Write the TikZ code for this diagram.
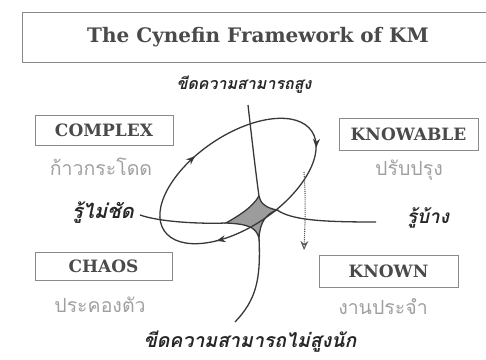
\documentclass[tikz,border=0pt]{standalone}
\usepackage{fontspec}
\newfontfamily\thaifont[Script=Thai]{Loma}
\newfontfamily\titlefont{DejaVu Serif}
\usetikzlibrary{arrows.meta,decorations.markings}
\definecolor{linec}{HTML}{383838}
\definecolor{boxc}{HTML}{8A8A8A}
\definecolor{boxtext}{HTML}{4A4A4A}
\definecolor{thaigray}{HTML}{A0A0A0}
\definecolor{starfill}{HTML}{9C9C9C}
\tikzset{
  catbox/.style={draw=boxc, line width=1pt, text=boxtext, font=\titlefont\bfseries\fontsize{17}{19}\selectfont, inner sep=0pt},
  graylabel/.style={text=thaigray, font=\thaifont\fontsize{19.5}{22}\selectfont, inner sep=0pt},
  axislabel/.style={text=black!85, font=\thaifont\bfseries\itshape\fontsize{#1}{22}\selectfont, inner sep=0pt},
  axislabel/.default=16,
  curve/.style={draw=linec, line width=1.3pt},
  midarrow/.style={postaction={decorate, decoration={markings, mark=at position #1 with {\arrow{Stealth[length=9pt,width=7pt]}}}}}
}
\begin{document}
\begin{tikzpicture}[x=1pt,y=-1pt]
\useasboundingbox (0,0) rectangle (486,359);
% title
\node[draw=boxc, line width=1pt, minimum width=470pt, minimum height=50pt, anchor=west, inner sep=0pt] (titlebox) at (22,37) {};
\node[text=boxtext, font=\titlefont\bfseries\fontsize{20}{22}\selectfont] (title) at (258,37) {The Cynefin Framework of KM};
% axis labels
\node[axislabel] (top) at (244,85) {ขีดความสามารถสูง};
\node[axislabel=19.5] (bottom) at (250,342) {ขีดความสามารถไม่สูงนัก};
\node[axislabel=20] (left) at (103,213) {รู้ไม่ชัด};
\node[axislabel=19] (right) at (428,218) {รู้บ้าง};
% category boxes
\node[catbox, minimum width=138pt, minimum height=30pt] (complex) at (104,130) {COMPLEX};
\node[graylabel] (complexT) at (101,167) {ก้าวกระโดด};
\node[catbox, minimum width=139pt, minimum height=32pt] (knowable) at (408.5,134) {KNOWABLE};
\node[graylabel] (knowableT) at (409,170) {ปรับปรุง};
\node[catbox, minimum width=137pt, minimum height=28pt] (chaos) at (103.5,266) {CHAOS};
\node[graylabel] (chaosT) at (100,305) {ประคองตัว};
\node[catbox, minimum width=139pt, minimum height=32pt] (known) at (388.5,271) {KNOWN};
\node[graylabel] (knownT) at (383,307) {งานประจำ};
% star
\coordinate (T) at (259,196);
\coordinate (L) at (226,223);
\coordinate (R) at (277,210);
\coordinate (B) at (259,238);
\coordinate (Ttip) at (248,105);
\coordinate (Ltip) at (140,215);
\coordinate (Rtip) at (376,222);
\coordinate (Btip) at (235,322);
\fill[starfill] (T) .. controls (252,208) and (238,216) .. (L)
  .. controls (245,224) and (256,226) .. (B)
  .. controls (260,222) and (266,214) .. (R)
  .. controls (266,208) and (260,203) .. (T) -- cycle;
\draw[curve] (T) .. controls (252,208) and (238,216) .. (L)
  .. controls (245,224) and (256,226) .. (B)
  .. controls (260,222) and (266,214) .. (R)
  .. controls (266,208) and (260,203) .. (T);
\draw[curve] (Ttip) .. controls (252,140) and (256,175) .. (T);
\draw[curve] (Ltip) .. controls (160,222) and (200,224) .. (L);
\draw[curve] (R) .. controls (292,220) and (320,222) .. (Rtip);
\draw[curve] (B) .. controls (261,280) and (256,300) .. (Btip);
% ellipse
\coordinate (ec) at (238,181);
\draw[curve, rotate around={34:(ec)}, midarrow/.list={0.04,0.37,0.70}] (ec) ellipse [x radius=89, y radius=46];
% dotted arrow
\coordinate (d1) at (304,172);
\coordinate (d2) at (304,250);
\draw[linec!85, line width=1.1pt, densely dotted, -{Stealth[length=9pt,width=8pt,open]}] (d1) .. controls (306,200) and (305,225) .. (d2);
\end{tikzpicture}
\end{document}
